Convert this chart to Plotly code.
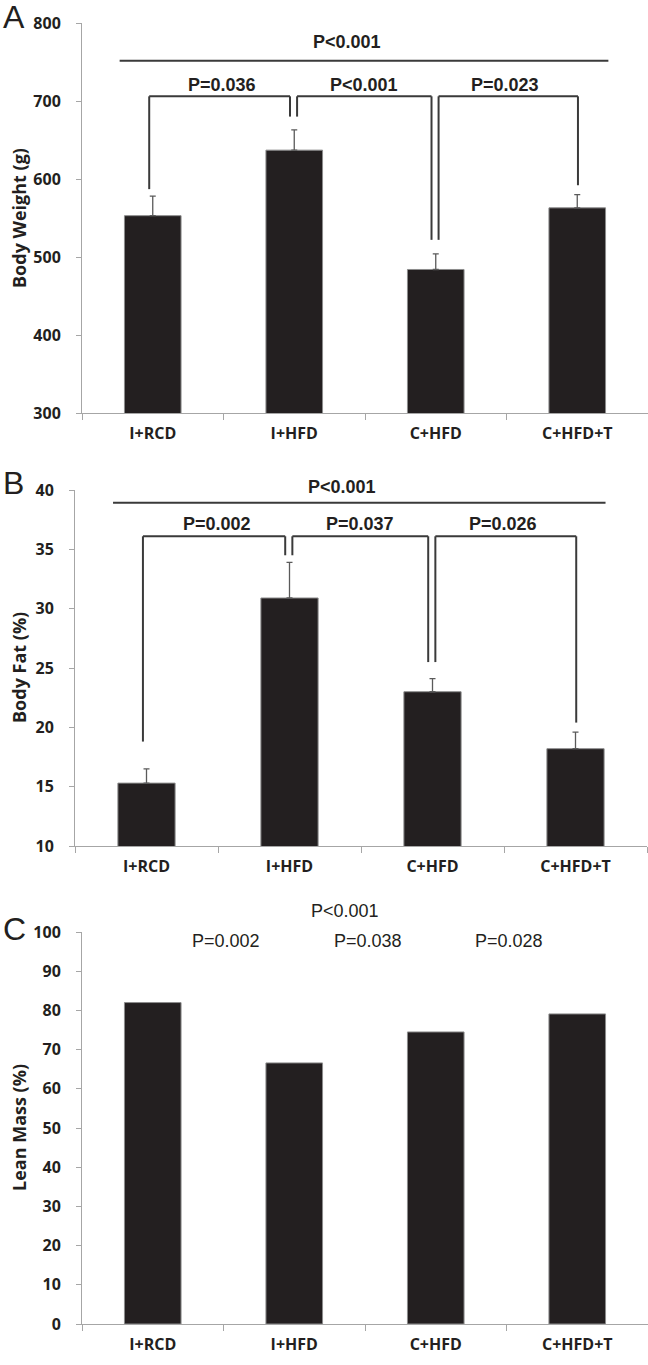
import plotly.graph_objects as go

# ---------------- data ----------------
categories = ["I+RCD", "I+HFD", "C+HFD", "C+HFD+T"]
body_weight = [553, 637, 484, 563]
body_weight_err = [25, 26, 20, 17]
body_fat = [15.3, 30.9, 23.0, 18.2]
body_fat_err = [1.2, 3.0, 1.1, 1.4]
lean_mass = [82.0, 66.6, 74.5, 79.1]

a_overall_p = "P<0.001"
a_pair_p = ["P=0.036", "P<0.001", "P=0.023"]
b_overall_p = "P<0.001"
b_pair_p = ["P=0.002", "P=0.037", "P=0.026"]
c_overall_p = "P<0.001"
c_pair_p = ["P=0.002", "P=0.038", "P=0.028"]

y_titles = ["Body Weight (g)", "Body Fat (%)", "Lean Mass (%)"]
panel_letters = ["A", "B", "C"]

# ---------------- style / layout ----------------
W, H = 648, 1365
BAR = "#231f20"
AX = "#a6a6a6"
INK = "#231f20"
LINE = "#3a3a3a"
TICKFONT = dict(family="Open Sans", size=16, color=INK, weight="bold")
PFONT_B = dict(family="Liberation Sans", size=18, color=INK, weight="bold")
PFONT_R = dict(family="Liberation Sans", size=18, color=INK)


def py(px):
    return 1 - px / H


# pixel boxes of the three plot areas: (x0, x1, ytop, ybottom)
boxes = [(82, 648, 23, 413), (75, 647, 490, 846), (82, 648, 932, 1324)]
yranges = [[300, 800], [10, 40], [0, 100]]
dticks = [100, 5, 10]

fig = go.Figure()
series = [(body_weight, body_weight_err), (body_fat, body_fat_err), (lean_mass, None)]
for i, (vals, err) in enumerate(series):
    sfx = "" if i == 0 else str(i + 1)
    kw = dict(x=categories, y=vals, xaxis="x" + sfx, yaxis="y" + sfx,
              marker=dict(color=BAR, line=dict(color="#8c8c8c", width=1)),
              showlegend=False, hoverinfo="skip")
    if err is not None:
        kw["error_y"] = dict(type="data", symmetric=False, array=err,
                             arrayminus=[0] * len(err), color="#5a5a5a",
                             thickness=1.3, width=3)
    fig.add_trace(go.Bar(**kw))

layout = dict(width=W, height=H, margin=dict(l=0, r=0, t=0, b=0, autoexpand=False),
              paper_bgcolor="white", plot_bgcolor="white", bargap=0.6,
              showlegend=False)
for i, (x0, x1, yt, yb) in enumerate(boxes):
    sfx = "" if i == 0 else str(i + 1)
    layout["xaxis" + sfx] = dict(
        domain=[x0 / W, x1 / W], anchor="y" + sfx, type="category",
        tickson="boundaries", ticks="outside", ticklen=6, tickcolor=AX,
        showline=True, linecolor=AX, linewidth=1, showgrid=False,
        zeroline=False, tickfont=TICKFONT, ticklabelstandoff=6,
        range=[-0.5, 3.5], fixedrange=True, automargin=False)
    layout["yaxis" + sfx] = dict(
        domain=[py(yb), py(yt)], anchor="x" + sfx, range=yranges[i],
        dtick=dticks[i], ticks="outside", ticklen=5, tickcolor=AX,
        showline=True, linecolor=AX, linewidth=1, showgrid=False,
        zeroline=False, tickfont=TICKFONT, ticklabelstandoff=12,
        fixedrange=True, automargin=False)
fig.update_layout(**layout)

shapes = []
annotations = []


def line(xr, yr, x0, y0, x1, y1, w=2):
    shapes.append(dict(type="line", xref=xr, yref=yr, x0=x0, y0=y0, x1=x1, y1=y1,
                       line=dict(color=LINE, width=w)))


def brackets(xr, yr, vals, errs, gaps, top, overall_y, overall_x, texts, text_y,
             overall_text, overall_text_px):
    n = len(vals)
    legs = [v + e + g for v, e, g in zip(vals, errs, gaps)]
    for k in range(n - 1):
        xl = k + (0.02 if k > 0 else -0.025)
        xrr = k + 1 + (-0.03 if k < n - 2 else 0.005)
        line(xr, yr, xl, legs[k], xl, top)
        line(xr, yr, xl, top, xrr, top)
        line(xr, yr, xrr, top, xrr, legs[k + 1])
        annotations.append(dict(xref=xr, yref=yr, x=k + 0.49, y=text_y, text=texts[k],
                                showarrow=False, font=PFONT_B,
                                xanchor="center", yanchor="middle"))
    line(xr, yr, overall_x[0], overall_y, overall_x[1], overall_y)
    annotations.append(dict(xref=xr, yref="paper", x=1.37, y=py(overall_text_px),
                            text=overall_text, showarrow=False, font=PFONT_B,
                            xanchor="center", yanchor="middle"))


brackets("x", "y", body_weight, body_weight_err, [9, 17, 18, 12], 706, 751.5,
         (-0.234, 3.22), a_pair_p, 720, a_overall_p, 42)
brackets("x2", "y2", body_fat, body_fat_err, [2.3, 0.6, 1.4, 0.8], 36.1, 38.92,
         (-0.234, 3.21), b_pair_p, 37.1, b_overall_p, 487)

# panel C: plain text p-values
for k, t in enumerate(c_pair_p):
    annotations.append(dict(xref="x3", yref="y3", x=k + 0.52, y=97.7, text=t,
                            showarrow=False, font=PFONT_R,
                            xanchor="center", yanchor="middle"))
annotations.append(dict(xref="x3", yref="paper", x=1.36, y=py(911), text=c_overall_p,
                        showarrow=False, font=PFONT_R,
                        xanchor="center", yanchor="middle"))

# y-axis titles and panel letters
for i, (x0, x1, yt, yb) in enumerate(boxes):
    annotations.append(dict(xref="paper", yref="paper", x=19 / W, y=py((yt + yb) / 2),
                            text=y_titles[i], textangle=-90, showarrow=False,
                            font=dict(family="Open Sans", size=18, color=INK, weight="bold"),
                            xanchor="center", yanchor="middle"))
letter_y = [17, 483, 929]
for i, L in enumerate(panel_letters):
    annotations.append(dict(xref="paper", yref="paper", x=1 / W, y=py(letter_y[i]),
                            text=L, showarrow=False, xanchor="left", yanchor="middle",
                            font=dict(family="Liberation Sans", size=32, color=INK)))

fig.update_layout(shapes=shapes, annotations=annotations)

# pin the figure to the page's top-left corner (no body margin / scrollbars)
post = (
    "document.documentElement.style.margin='0';"
    "document.body.style.margin='0';document.body.style.padding='0';"
    "document.documentElement.style.overflow='hidden';"
    "var d=document.getElementById('{plot_id}');"
    "d.style.position='absolute';d.style.left='0px';d.style.top='0px';"
)
fig.write_html("out.html", post_script=post, config={"displayModeBar": False})
